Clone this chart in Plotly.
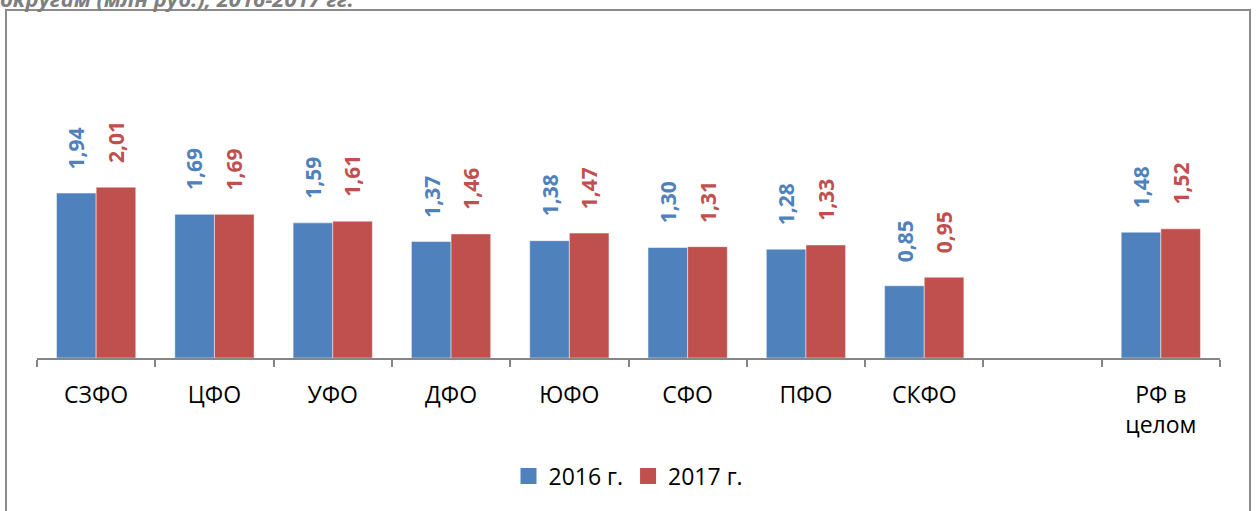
import plotly.graph_objects as go

categories = ["СЗФО", "ЦФО", "УФО", "ДФО", "ЮФО", "СФО", "ПФО", "СКФО", " ", "РФ в<br>целом"]
values_2016 = [1.94, 1.69, 1.59, 1.37, 1.38, 1.30, 1.28, 0.85, None, 1.48]
values_2017 = [2.01, 1.69, 1.61, 1.46, 1.47, 1.31, 1.33, 0.95, None, 1.52]
series_names = ["2016 г.", "2017 г."]
title_text = "округам (млн руб.), 2016-2017 гг."

BLUE = "#4F81BD"
RED = "#C0504D"
FONT = "Open Sans"

W, H = 1256, 511
PL, PR, PT, PB = 37, 1220, 69, 358  # plot area in pixels
YMAX = 3.4


def px_x(p):
    return (p - PL) / (PR - PL)


def px_y(p):
    return (PB - p) / (PB - PT)


def fmt(v):
    return f"{v:.2f}".replace(".", ",")


fig = go.Figure()
for name, vals, col in [(series_names[0], values_2016, BLUE), (series_names[1], values_2017, RED)]:
    fig.add_trace(go.Bar(
        x=categories, y=vals, name=name, showlegend=False, legendgroup=name,
        marker=dict(color=col, line=dict(color="rgba(255,255,255,0.6)", width=0.8)),
    ))
# legend entries with larger square swatches
for name, col in [(series_names[0], BLUE), (series_names[1], RED)]:
    fig.add_trace(go.Scatter(
        x=[None], y=[None], mode="markers", name=name, legendgroup=name,
        marker=dict(symbol="square", size=16, color=col),
    ))

slot = (PR - PL) / len(categories)
bar_w = slot * 0.67 / 2
annotations = []
for vals, col, sign in [(values_2016, BLUE, -1), (values_2017, RED, 1)]:
    for c, v in zip(categories, vals):
        if v is None:
            continue
        annotations.append(dict(
            x=c, y=v, xref="x", yref="y", text=fmt(v), showarrow=False,
            textangle=-90, xanchor="center", yanchor="bottom",
            xshift=sign * bar_w / 2, yshift=22,
            font=dict(family=FONT, size=21, color=col, weight="bold"),
        ))

annotations.append(dict(
    x=px_x(-2), y=px_y(15), xref="paper", yref="paper", text=title_text,
    showarrow=False, xanchor="left", yanchor="bottom",
    font=dict(family=FONT, size=22, color="#7f7f7f", weight="bold", style="italic"),
))

fig.update_layout(
    width=W, height=H,
    margin=dict(l=PL, r=W - PR, t=PT, b=H - PB, pad=0),
    paper_bgcolor="white", plot_bgcolor="white",
    barmode="group", bargap=0.33, bargroupgap=0,
    font=dict(family=FONT, size=20, color="black"),
    showlegend=True,
    legend=dict(orientation="h", x=0.5, xanchor="center", y=px_y(476), yanchor="middle",
                font=dict(family=FONT, size=23, color="black"), traceorder="normal",
                itemwidth=30),
    annotations=annotations,
    shapes=[dict(type="rect", xref="paper", yref="paper",
                 x0=px_x(6), x1=px_x(1250), y0=px_y(530), y1=px_y(10),
                 line=dict(color="#8c8c8c", width=2), fillcolor="rgba(0,0,0,0)", layer="below")],
    xaxis=dict(type="category", categoryorder="array", categoryarray=categories,
               showline=True, linecolor="#868686", linewidth=1.5,
               ticks="outside", tickson="boundaries", ticklen=7, tickcolor="#868686", tickwidth=1.5,
               tickfont=dict(family=FONT, size=23, color="black"), showgrid=False,
               ticklabelstandoff=16),
    yaxis=dict(range=[0, YMAX], visible=False, showgrid=False, zeroline=False),
)

fig.write_html("out.html", config={"displayModeBar": False},
               post_script="document.body.style.margin='0';document.body.style.overflow='hidden';")
